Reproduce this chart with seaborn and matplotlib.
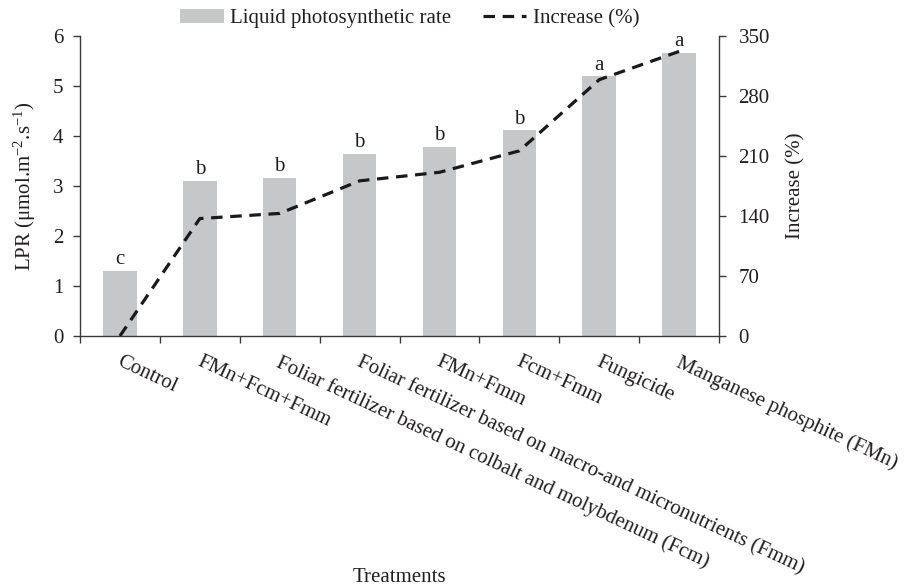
import numpy as np
import pandas as pd
import matplotlib
matplotlib.use("Agg")
import matplotlib.pyplot as plt
import matplotlib.transforms as mtransforms
from matplotlib.patches import Patch
from matplotlib.lines import Line2D
import seaborn as sns

# Treatments and measured values
treatments = [
    "Control",
    "FMn+Fcm+Fmm",
    "Foliar fertilizer based on colbalt and molybdenum (Fcm)",
    "Foliar fertilizer based on macro-and micronutrients (Fmm)",
    "FMn+Fmm",
    "Fcm+Fmm",
    "Fungicide",
    "Manganese phosphite (FMn)",
]
lpr = [1.31, 3.10, 3.17, 3.65, 3.78, 4.11, 5.20, 5.66]
increase = [0, 137, 143, 181, 191, 216, 299, 332]
letters = ["c", "b", "b", "b", "b", "b", "a", "a"]

left_ticks = [0, 1, 2, 3, 4, 5, 6]
right_ticks = [0, 70, 140, 210, 280, 350]

sns.set_style("ticks")
plt.rcParams["font.family"] = ["Liberation Serif", "DejaVu Serif"]
plt.rcParams["mathtext.fontset"] = "custom"
plt.rcParams["mathtext.rm"] = "Liberation Serif"
plt.rcParams["mathtext.it"] = "Liberation Serif"
plt.rcParams["mathtext.default"] = "regular"

TXT = "#231f20"
AX = "#3a3a3a"
BAR = "#c6c7c9"
LINE = "#1a1a1a"
FS = 15
DASH = (0, (3.6, 2.4))

df = pd.DataFrame({"Treatment": treatments, "LPR": lpr, "Increase": increase})

fig = plt.figure(figsize=(9.11, 5.87), dpi=100)
ax = fig.add_axes([80 / 911, 1 - 336 / 587, 639 / 911, 300 / 587])

sns.barplot(data=df, x="Treatment", y="LPR", color=BAR, saturation=1,
            width=0.42, ax=ax, edgecolor="none")

ax.set_xlim(-0.5, len(treatments) - 0.5)
ax.set_ylim(0, 6)
ax.set_yticks(left_ticks)
ax.set_yticklabels([str(t) for t in left_ticks], fontsize=FS, color=TXT)

# category boundaries as tick marks, labels at bar centers
ax.set_xticks(np.arange(len(treatments)))
ax.set_xticks(np.arange(len(treatments) + 1) - 0.5, minor=True)
ax.tick_params(axis="x", which="major", length=0, pad=12)
ax.tick_params(axis="x", which="minor", length=5, width=1, color=AX)
ax.tick_params(axis="y", length=5, width=1, color=AX, pad=7)
ax.set_xticklabels(treatments, rotation=-25, ha="left", va="top",
                   rotation_mode="anchor", fontsize=FS, color=TXT)
offset = mtransforms.ScaledTranslation(2 / 100, 0, fig.dpi_scale_trans)
for lbl in ax.get_xticklabels():
    lbl.set_transform(lbl.get_transform() + offset)

for i, (v, l) in enumerate(zip(lpr, letters)):
    ax.text(i, v + 0.03, l, ha="center", va="bottom", fontsize=FS, color=TXT)

ax.set_ylabel("LPR (μmol.m$^{-2}$.s$^{-1}$)", fontsize=FS, color=TXT, labelpad=11)
ax.set_xlabel("Treatments", fontsize=FS, color=TXT)
ax.xaxis.set_label_coords(0.5, -0.775)
ax.xaxis.label.set_va("top")

for s in ["left", "bottom"]:
    ax.spines[s].set_color(AX)
    ax.spines[s].set_linewidth(1)
ax.spines["top"].set_visible(False)
ax.spines["right"].set_visible(False)

ax2 = ax.twinx()
sns.lineplot(x=np.arange(len(treatments)), y=increase, ax=ax2, color=LINE,
             linewidth=2.3, linestyle=DASH)
ax2.set_ylim(0, 350)
ax2.set_yticks(right_ticks)
ax2.set_yticklabels([str(t) for t in right_ticks], fontsize=FS, color=TXT)
ax2.tick_params(axis="y", length=5, width=1, color=AX, pad=9)
ax2.set_ylabel("Increase (%)", fontsize=FS, color=TXT, labelpad=12)
ax2.spines["right"].set_color(AX)
ax2.spines["right"].set_linewidth(1)
for s in ["top", "left", "bottom"]:
    ax2.spines[s].set_visible(False)

handles = [Patch(facecolor=BAR, edgecolor="none"),
           Line2D([0], [0], color=LINE, linewidth=2.3, linestyle=DASH)]
leg = ax.legend(handles, ["Liquid photosynthetic rate", "Increase (%)"],
                loc="center", bbox_to_anchor=(0.516, 1.058), ncol=2, frameon=False,
                fontsize=FS, handlelength=2.1, handleheight=0.65, columnspacing=1.5,
                handletextpad=0.3, borderaxespad=0)
for t in leg.get_texts():
    t.set_color(TXT)

fig.savefig("out.png", dpi=100)
